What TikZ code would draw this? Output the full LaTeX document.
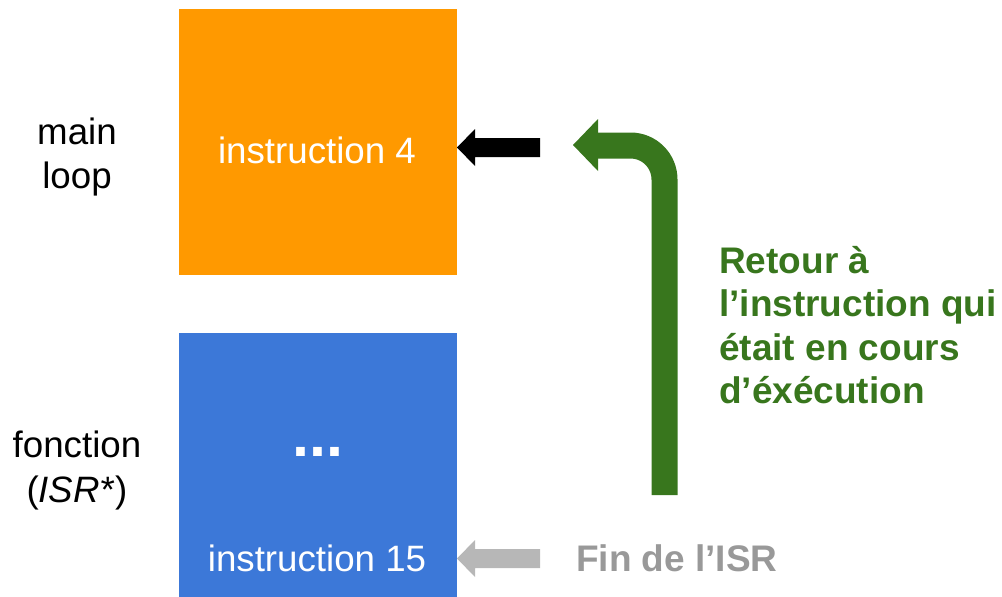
\documentclass[tikz,border=0pt]{standalone}
\usepackage{fontspec}
\setmainfont{Liberation Sans}
\definecolor{orangebox}{HTML}{FF9900}
\definecolor{bluebox}{HTML}{3C78D8}
\definecolor{greenarr}{HTML}{38761D}
\definecolor{grayarr}{HTML}{B7B7B7}
\definecolor{graytext}{HTML}{999999}
\begin{document}
\begin{tikzpicture}[x=1pt,y=-1pt,
  box/.style={inner sep=0pt, outer sep=0pt},
  boxtext/.style={text=white, font=\fontsize{36.7}{44}\selectfont, anchor=base, inner sep=0pt},
  sidetext/.style={font=\fontsize{36.7}{44}\selectfont, anchor=base, inner sep=0pt},
  greentext/.style={text=greenarr, font=\bfseries\fontsize{37}{44}\selectfont, anchor=base west, inner sep=0pt}]
\useasboundingbox (0,0) rectangle (1002,597);
% boxes
\fill[orangebox] (179,9) rectangle (457,275);
\coordinate (mainbox) at (318,142);
\fill[bluebox] (179,333) rectangle (457,597);
\coordinate (isrbox) at (318,465);
\node[boxtext] (i4) at (317,163) {instruction 4};
\node[boxtext] (i15) at (317,571) {instruction 15};
\node[text=white, font=\bfseries\fontsize{61}{70}\selectfont, anchor=base, inner sep=0pt] (dots) at (318,456) {...};
% side labels
\node[sidetext] (ml1) at (77,144) {main};
\node[sidetext] (ml2) at (77,188) {loop};
\node[sidetext] (fn1) at (77,457) {fonction};
\node[sidetext] (fn2) at (77,502) {(\textit{ISR*})};
% black arrow
\coordinate (ba1) at (540,147.5);
\fill[black] (540,138) -- (475,138) -- (475,129) -- (457,147.5) -- (475,166) -- (475,157) -- (540,157) -- cycle;
% gray arrow
\fill[grayarr] (540,549) -- (475,549) -- (475,540) -- (457,558.5) -- (475,577) -- (475,568) -- (540,568) -- cycle;
\node[text=graytext, font=\bfseries\fontsize{37}{44}\selectfont, anchor=base west, inner sep=0pt] (fin) at (576,571) {Fin de l’ISR};
% green arrow
\draw[greenarr, line width=26pt, rounded corners=34pt] (664.5,495) -- (664.5,145.5) -- (597,145.5);
\fill[greenarr] (598,119) -- (573,145) -- (598,171) -- cycle;
% green text
\node[greentext] (g1) at (719,273) {Retour à};
\node[greentext] (g2) at (719,316.5) {l’instruction qui};
\node[greentext] (g3) at (719,360) {était en cours};
\node[greentext] (g4) at (719,403.5) {d’éxécution};
\end{tikzpicture}
\end{document}
